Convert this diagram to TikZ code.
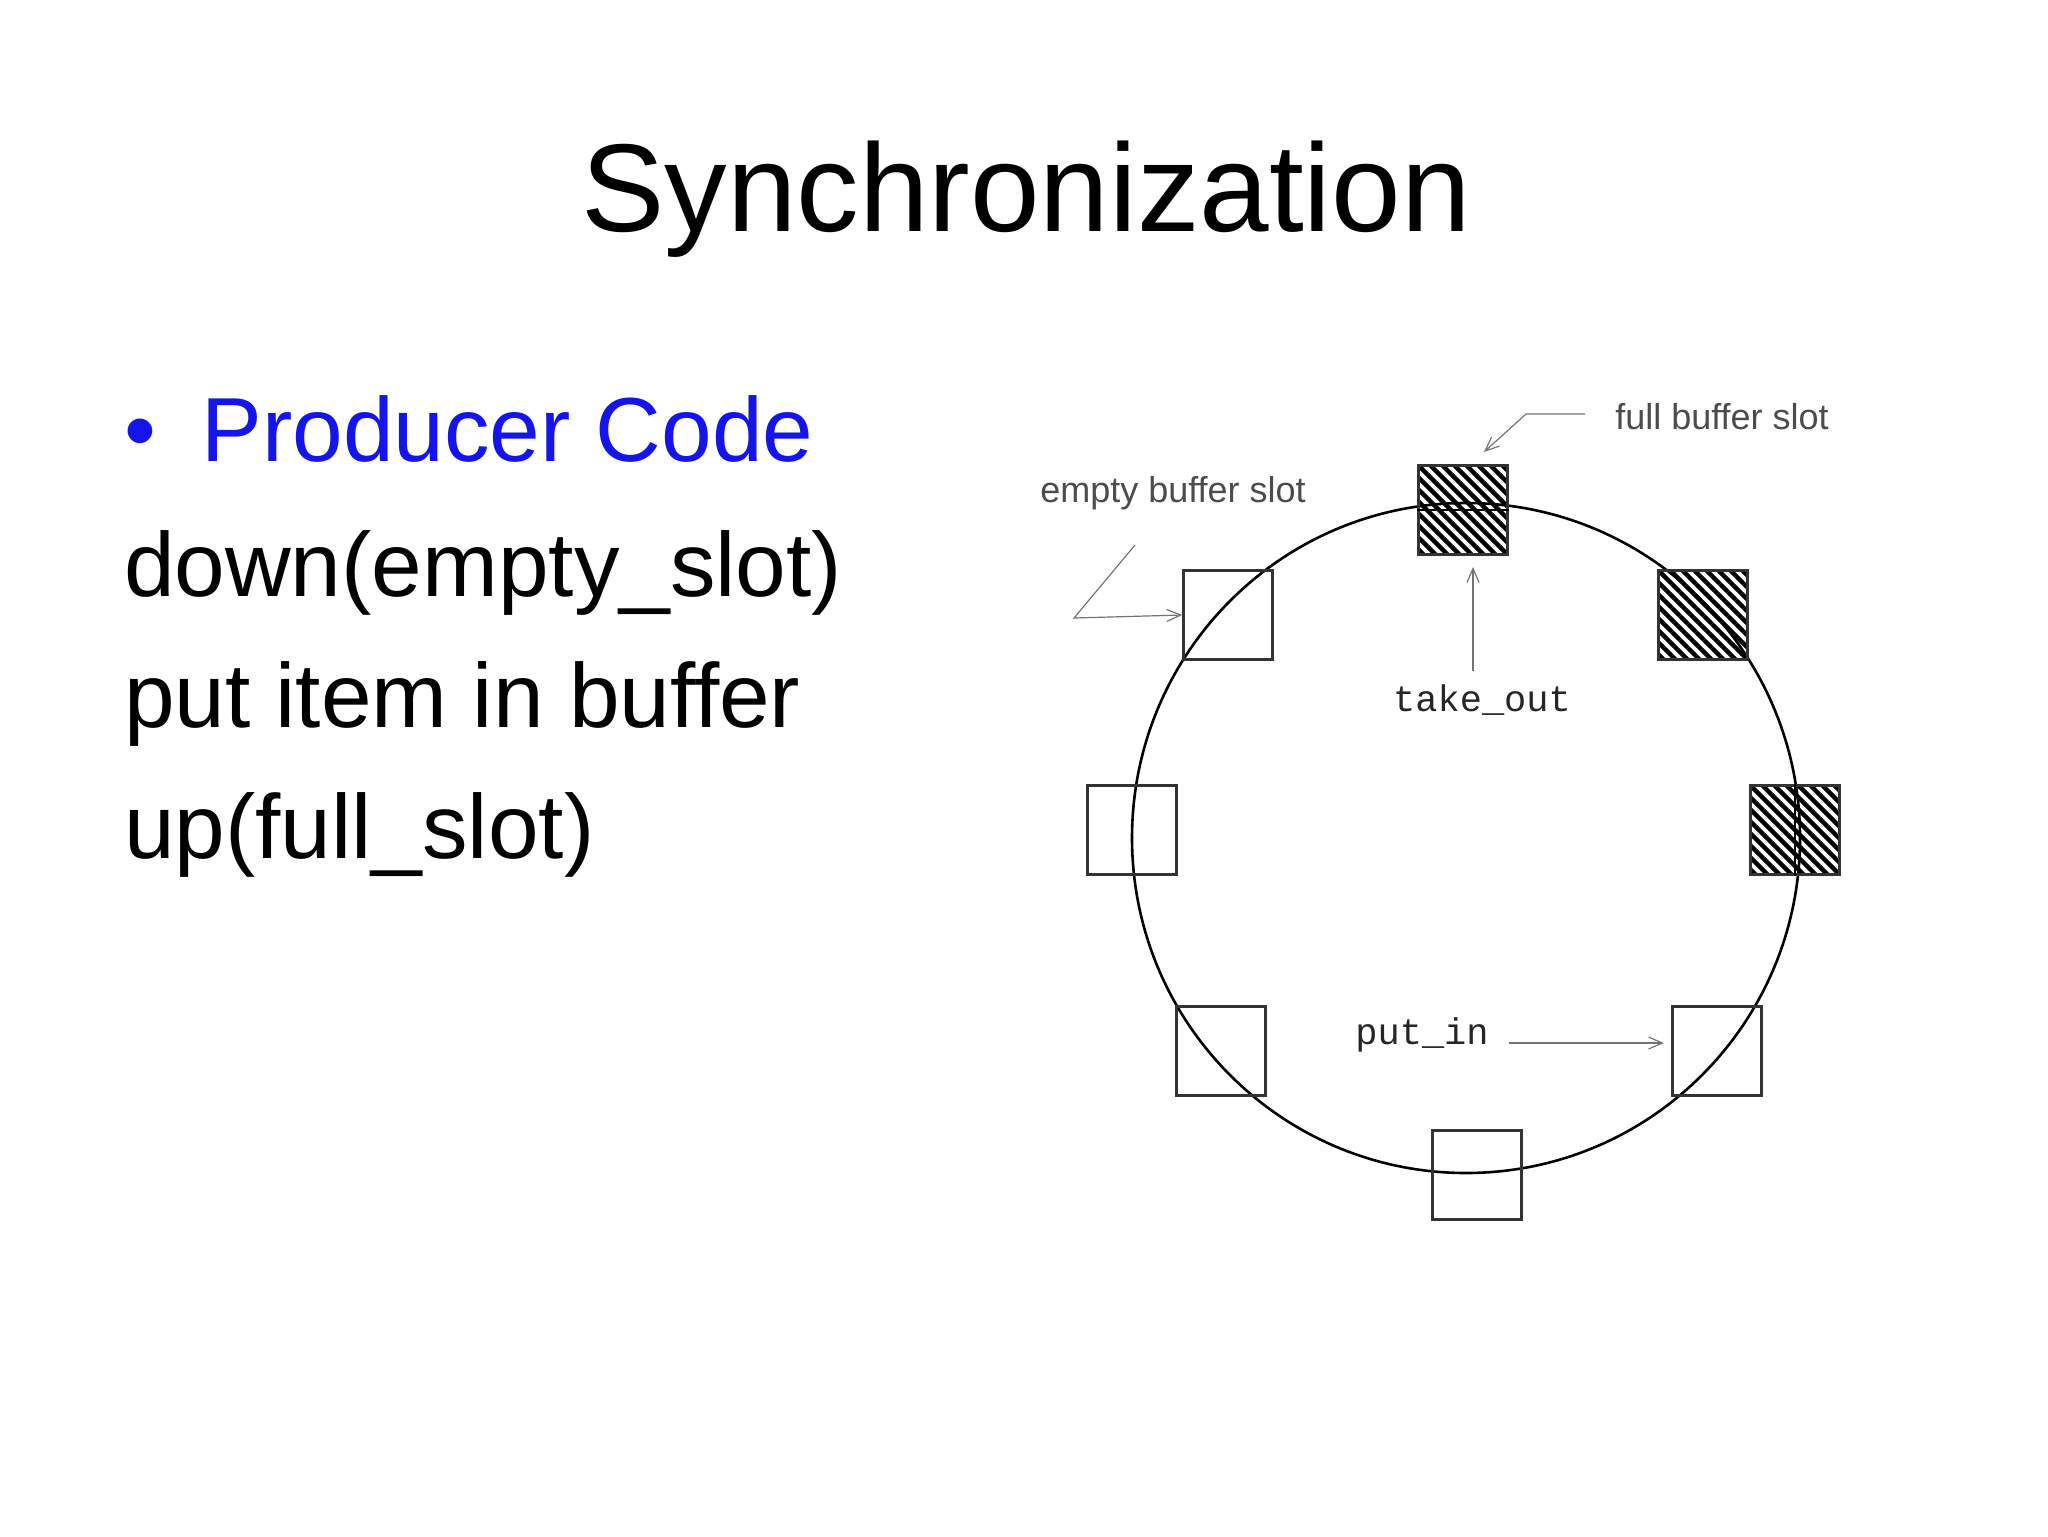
\documentclass[tikz,border=0pt]{standalone}
\usepackage{fontspec}
\setmainfont{Liberation Sans}
\newfontfamily\monof{Liberation Mono}
\usetikzlibrary{arrows.meta}
\definecolor{pblue}{RGB}{20,20,235}
\begin{document}
\begin{tikzpicture}[x=0.5pt,y=-0.5pt,
  slot/.style={draw=black!80,line width=1.3pt,minimum size=44.5pt,inner sep=0pt},
  lbl/.style={text=black!70,font=\fontsize{18}{20}\selectfont},
  mlbl/.style={text=black!85,font=\monof\fontsize{18.5}{20}\selectfont},
  ptr/.style={draw=black!55,line width=0.6pt,-{Straight Barb[length=7pt,width=6pt]}},
  txt/.style={anchor=base west,font=\fontsize{45.5}{54}\selectfont}]
\path[use as bounding box] (0,0) rectangle (2048,1536);
\node[font=\fontsize{62.5}{74}\selectfont] (title) at (1026,199) {Synchronization};
\node[txt,text=pblue] (pc) at (117,461) {•\hspace{0.5em}Producer Code};
\node[txt] (l1) at (117,596) {down(empty\_slot)};
\node[txt] (l2) at (117,727) {put item in buffer};
\node[txt] (l3) at (117,858) {up(full\_slot)};
\draw[line width=1.3pt] (1466,838) ellipse [x radius=334,y radius=335];
\foreach \n/\x/\y in {s1/1463/510,s2/1703/615,s3/1795/830}{
  \begin{scope}
  \clip (\x-44.5,\y-44.5) rectangle (\x+44.5,\y+44.5);
  \foreach \k in {-120,-108,...,120}
    \draw[line width=2.2pt] (\x+\k-50,\y-50) -- (\x+\k+50,\y+50);
  \end{scope}
  \node[slot] (\n) at (\x,\y) {};
}
\draw[line width=1.3pt] (s1.west) -- (s1.east);
\draw[line width=1.3pt] (s3.north) -- (s3.south);
\node[slot] (s4) at (1717,1051) {};
\node[slot] (s5) at (1477,1175) {};
\node[slot] (s6) at (1221,1051) {};
\node[slot] (s7) at (1132,830) {};
\node[slot] (s8) at (1228,615) {};
\node[lbl] (le) at (1173,493) {empty buffer slot};
\node[lbl] (lf) at (1722,417) {full buffer slot};
\node[mlbl] (lt) at (1482,700) {take\_out};
\node[mlbl] (lp) at (1422,1035) {put\_in};
\coordinate (e1) at (1135,545); \coordinate (e2) at (1074,618);
\draw[ptr] (e1) -- (e2) -- (s8.west);
\coordinate (f1) at (1585,414); \coordinate (f2) at (1526,414);
\draw[ptr] (f1) -- (f2) -- (1484,452);
\draw[ptr] (1473,671) -- (1473,567);
\draw[ptr] (1509,1043) -- (1664,1043);
\end{tikzpicture}
\end{document}
